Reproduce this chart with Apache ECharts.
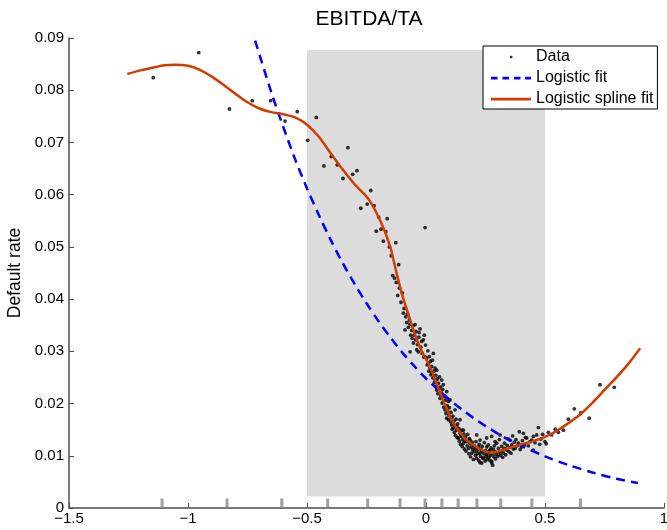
<!DOCTYPE html>
<html>
<head>
<meta charset="utf-8">
<title>EBITDA/TA</title>
<script src="https://cdn.jsdelivr.net/npm/echarts@6/dist/echarts.min.js"></script>
<style>
  html, body { margin: 0; padding: 0; background: #fff; }
  #chart { width: 667px; height: 530px; }
</style>
</head>
<body>
<div id="chart"></div>
<script>
// observed default rates (x = EBITDA/TA bucket, y = default rate)
const dataPoints = [
  [-1.146,0.0824],[-0.955,0.0872],[-0.826,0.0764],[-0.730,0.0780],[-0.653,0.0780],[-0.592,0.0741],
  [-0.541,0.0759],[-0.497,0.0704],[-0.461,0.0748],[-0.429,0.0655],[-0.398,0.0673],[-0.373,0.0657],
  [-0.328,0.0690],[-0.290,0.0646],[-0.308,0.0639],[-0.349,0.0631],[-0.232,0.0608],[-0.247,0.0582],
  [-0.274,0.0574],[-0.218,0.0579],[-0.199,0.0557],[-0.163,0.0554],[-0.209,0.0530],[-0.189,0.0534],
  [-0.169,0.0529],[-0.179,0.0511],[-0.127,0.0508],[-0.154,0.0500],[-0.146,0.0483],[-0.115,0.0466],
  [-0.140,0.0445],[-0.132,0.0440],[-0.004,0.0537],
  [-0.125,0.0432],[-0.119,0.0407],[-0.112,0.0421],[-0.105,0.0394],[-0.099,0.0412],[-0.095,0.0373],
  [-0.092,0.0382],[-0.088,0.0341],[-0.085,0.0366],[-0.081,0.0355],[-0.078,0.0371],[-0.074,0.0346],
  [-0.070,0.0360],[-0.067,0.0352],[-0.064,0.0331],[-0.060,0.0340],[-0.058,0.0325],[-0.055,0.0349],
  [-0.053,0.0316],[-0.050,0.0331],[-0.046,0.0351],[-0.044,0.0322],[-0.042,0.0338],[-0.039,0.0303],
  [-0.036,0.0313],[-0.032,0.0299],[-0.030,0.0327],[-0.029,0.0336],[-0.025,0.0343],[-0.022,0.0308],
  [-0.018,0.0319],[-0.016,0.0296],[-0.011,0.0322],[-0.009,0.0289],[-0.007,0.0331],[-0.004,0.0290],
  [-0.002,0.0312],[-0.067,0.0299],
  [0.003,0.0287],[0.005,0.0274],[0.008,0.0301],[0.010,0.0277],[0.012,0.0262],[0.014,0.0290],
  [0.017,0.0268],[0.019,0.0281],[0.021,0.0255],[0.024,0.0258],[0.024,0.0271],[0.027,0.0283],
  [0.029,0.0249],[0.031,0.0296],[0.033,0.0262],[0.035,0.0240],[0.038,0.0268],[0.038,0.0245],
  [0.041,0.0254],[0.043,0.0233],[0.045,0.0226],[0.045,0.0264],[0.048,0.0247],[0.050,0.0219],
  [0.052,0.0239],[0.054,0.0228],[0.057,0.0251],[0.059,0.0210],[0.061,0.0232],[0.063,0.0215],
  [0.066,0.0220],[0.066,0.0245],[0.068,0.0201],[0.070,0.0227],[0.073,0.0204],[0.073,0.0236],
  [0.075,0.0193],[0.077,0.0214],[0.080,0.0188],[0.082,0.0207],[0.084,0.0181],[0.087,0.0223],
  [0.087,0.0172],[0.089,0.0196],[0.092,0.0185],[0.094,0.0204],[0.094,0.0169],[0.096,0.0178],
  [0.098,0.0192],[0.101,0.0207],
  [0.103,0.0165],[0.105,0.0183],[0.108,0.0159],[0.108,0.0172],[0.110,0.0151],[0.113,0.0176],
  [0.115,0.0153],[0.117,0.0166],[0.119,0.0145],[0.122,0.0188],[0.122,0.0158],[0.124,0.0139],
  [0.126,0.0170],[0.129,0.0149],[0.129,0.0156],[0.131,0.0135],[0.133,0.0161],[0.136,0.0134],
  [0.138,0.0152],[0.140,0.0128],[0.143,0.0143],[0.143,0.0169],[0.145,0.0122],[0.147,0.0139],
  [0.150,0.0149],[0.150,0.0137],[0.152,0.0118],[0.154,0.0131],[0.157,0.0124],[0.157,0.0149],
  [0.159,0.0142],[0.161,0.0113],[0.164,0.0128],[0.166,0.0136],[0.168,0.0109],[0.171,0.0127],
  [0.173,0.0119],[0.175,0.0141],[0.178,0.0114],[0.180,0.0104],[0.182,0.0133],[0.185,0.0124],
  [0.185,0.0130],[0.187,0.0098],[0.189,0.0117],[0.192,0.0105],[0.194,0.0126],[0.196,0.0112],
  [0.199,0.0093],[0.201,0.0119],
  [0.203,0.0108],[0.206,0.0114],[0.208,0.0101],[0.210,0.0127],[0.213,0.0140],[0.213,0.0095],
  [0.215,0.0110],[0.217,0.0104],[0.220,0.0117],[0.222,0.0091],[0.224,0.0122],[0.227,0.0105],
  [0.227,0.0130],[0.227,0.0087],[0.229,0.0099],[0.231,0.0112],[0.234,0.0108],[0.234,0.0086],
  [0.236,0.0118],[0.238,0.0096],[0.241,0.0095],[0.243,0.0104],[0.245,0.0125],[0.248,0.0090],
  [0.250,0.0110],[0.252,0.0099],[0.255,0.0102],[0.255,0.0117],[0.255,0.0134],[0.257,0.0093],
  [0.260,0.0106],[0.262,0.0121],[0.264,0.0097],[0.266,0.0109],[0.269,0.0111],[0.269,0.0091],
  [0.271,0.0101],[0.273,0.0115],[0.276,0.0089],[0.276,0.0137],[0.276,0.0086],[0.278,0.0104],
  [0.280,0.0082],[0.283,0.0112],[0.285,0.0098],[0.287,0.0119],[0.290,0.0108],[0.290,0.0127],
  [0.292,0.0094],[0.294,0.0103],[0.297,0.0124],
  [0.301,0.0099],[0.304,0.0114],[0.306,0.0106],[0.308,0.0131],[0.311,0.0140],[0.313,0.0101],
  [0.316,0.0109],[0.318,0.0118],[0.322,0.0097],[0.325,0.0105],[0.327,0.0112],[0.330,0.0124],
  [0.332,0.0114],[0.335,0.0102],[0.339,0.0111],[0.341,0.0120],[0.344,0.0133],[0.348,0.0108],
  [0.353,0.0130],[0.353,0.0116],[0.357,0.0105],[0.360,0.0121],[0.364,0.0138],[0.367,0.0113],
  [0.371,0.0126],[0.374,0.0114],[0.378,0.0131],[0.383,0.0119],[0.388,0.0124],[0.392,0.0146],
  [0.396,0.0112],[0.402,0.0117],[0.405,0.0129],[0.409,0.0143],[0.414,0.0121],[0.418,0.0135],
  [0.423,0.0134],[0.430,0.0119],[0.437,0.0127],[0.444,0.0130],[0.451,0.0111],[0.451,0.0137],
  [0.458,0.0125],[0.465,0.0140],[0.472,0.0154],[0.478,0.0122],[0.483,0.0132],[0.490,0.0141],
  [0.500,0.0127],[0.505,0.0123],[0.514,0.0145],[0.528,0.0140],[0.543,0.0151],[0.556,0.0145],
  [0.577,0.0149],[0.598,0.0170],[0.623,0.0190],[0.650,0.0182],[0.686,0.0172],[0.731,0.0236],
  [0.791,0.0231]
]

// plain logistic fit
const logisticFit = [
  [-0.718,0.0895],[-0.65,0.0796],[-0.6,0.0730],[-0.55,0.0668],[-0.5,0.0612],[-0.45,0.0561],
  [-0.4,0.0513],[-0.35,0.0469],[-0.3,0.0429],[-0.25,0.0392],[-0.2,0.0358],[-0.15,0.0327],
  [-0.1,0.0298],[-0.05,0.0272],[0,0.0248],[0.05,0.0227],[0.1,0.0207],[0.15,0.0189],
  [0.2,0.0172],[0.25,0.0157],[0.3,0.0143],[0.35,0.0130],[0.4,0.0119],[0.5,0.0099],
  [0.6,0.0082],[0.7,0.0068],[0.8,0.0056],[0.89,0.0048]
]

// logistic spline fit
const splineFit = [
  [-1.255,0.0831],[-1.2,0.0838],[-1.15,0.0843],[-1.1,0.0848],[-1.055,0.0849],[-1.0,0.0847],
  [-0.95,0.0839],[-0.9,0.0826],[-0.85,0.0810],[-0.8,0.0793],[-0.75,0.0777],[-0.7,0.0765],
  [-0.65,0.0758],[-0.6,0.0754],[-0.55,0.0748],[-0.5,0.0734],[-0.45,0.0711],[-0.4,0.0679],
  [-0.35,0.0648],[-0.3,0.0620],[-0.242,0.0592],[-0.19,0.0548],[-0.15,0.0500],[-0.13,0.0462],
  [-0.1,0.0408],[-0.075,0.0372],[-0.05,0.0337],[-0.02,0.0302],[0.0,0.0285],[0.02,0.0267],
  [0.05,0.0232],[0.08,0.0197],[0.11,0.0167],[0.14,0.0146],[0.17,0.0130],[0.2,0.0121],
  [0.23,0.0112],[0.26,0.0107],[0.28,0.0106],[0.3,0.0108],[0.33,0.0112],[0.36,0.0116],
  [0.4,0.0122],[0.45,0.0128],[0.5,0.0136],[0.55,0.0148],[0.6,0.0163],[0.65,0.0180],
  [0.7,0.0202],[0.75,0.0226],[0.8,0.0250],[0.85,0.0276],[0.9,0.0306]
]

// spline knot positions (rug marks along the x axis)
const rugTicks = [-1.109, -0.836, -0.606, -0.413, -0.245, -0.109, -0.004, 0.067, 0.135, 0.214, 0.314, 0.445, 0.649]

// shaded region
const bandX = [-0.5, 0.5]
const bandY = [0.0022, 0.0877]

const xRange = [-1.5, 1, 0.5]
const yRange = [0, 0.09, 0.01]

const font = '"Liberation Sans", Arial, Helvetica, sans-serif'
const axisGray = '#4d4d4d'

// legend icons (corner moves keep the 40x14 box)
const dotIcon = 'path://M0,0M40,14M19,5.8L21.4,5.8L21.4,8.2L19,8.2Z'
const dashIcon = 'path://M0,0M40,14M0,5.8h6.5v2.6h-6.5z M11.5,5.8h6.5v2.6h-6.5z M23,5.8h6.5v2.6h-6.5z M34,5.8h6v2.6h-6z'
const solidIcon = 'path://M0,0M40,14M0,5.8h40v2.6h-40z'

const chart = echarts.init(document.getElementById('chart'))

chart.setOption({
  animation: false,
  textStyle: { fontFamily: font },
  title: {
    text: 'EBITDA/TA',
    left: 364,
    textAlign: 'center',
    top: 4,
    textStyle: { fontFamily: font, fontSize: 21, fontWeight: 'normal', color: '#000' }
  },
  grid: { left: 69, right: 3, top: 38, bottom: 22, containLabel: false, outerBoundsMode: 'none' },
  legend: {
    orient: 'vertical',
    left: 483,
    top: 46,
    width: 175,
    backgroundColor: '#fff',
    borderColor: '#000',
    borderWidth: 1,
    borderRadius: 0,
    padding: [3, 4, 2, 8],
    itemWidth: 40,
    itemHeight: 14,
    itemGap: 5,
    textStyle: { fontFamily: font, fontSize: 16, color: '#000' },
    data: [
      { name: 'Data', icon: dotIcon },
      { name: 'Logistic fit', icon: dashIcon, itemStyle: { borderWidth: 0 }, lineStyle: { width: 0 } },
      { name: 'Logistic spline fit', icon: solidIcon, itemStyle: { borderWidth: 0 }, lineStyle: { width: 0 } }
    ]
  },
  xAxis: {
    type: 'value',
    min: xRange[0], max: xRange[1], interval: xRange[2],
    axisLine: { onZero: false, lineStyle: { color: axisGray, width: 1.5 } },
    axisTick: { inside: true, length: 5, lineStyle: { color: axisGray } },
    splitLine: { show: false },
    axisLabel: {
      margin: 3,
      fontSize: 15,
      color: '#000',
      fontFamily: font,
      formatter: v => String(v).replace('-', '\u2212')
    }
  },
  yAxis: {
    type: 'value',
    min: yRange[0], max: yRange[1], interval: yRange[2],
    name: 'Default rate',
    nameLocation: 'middle',
    nameGap: 39,
    nameTextStyle: { fontFamily: font, fontSize: 17.5, color: '#000' },
    axisLine: { show: true, onZero: false, lineStyle: { color: axisGray, width: 1.5 } },
    axisTick: { show: true, inside: true, length: 5, lineStyle: { color: axisGray } },
    splitLine: { show: false },
    axisLabel: { margin: 5, fontSize: 15, color: '#000', fontFamily: font }
  },
  series: [
    {
      name: 'knots',
      type: 'scatter',
      data: rugTicks.map(x => [x, 0]),
      symbol: 'rect',
      symbolSize: [3, 9],
      symbolOffset: [0, -5],
      itemStyle: { color: '#888888' },
      silent: true,
      markArea: {
        silent: true,
        label: { show: false },
        itemStyle: { color: '#dcdcdc' },
        data: [[{ xAxis: bandX[0], yAxis: bandY[0] }, { xAxis: bandX[1], yAxis: bandY[1] }]]
      },
      z: 1
    },
    {
      name: 'Data',
      type: 'scatter',
      data: dataPoints,
      symbol: 'circle',
      symbolSize: 3.8,
      itemStyle: { color: '#000' },
      z: 2
    },
    {
      name: 'Logistic fit',
      type: 'line',
      data: logisticFit,
      showSymbol: false,
      symbol: 'none',
      smooth: 0.3,
      lineStyle: { color: '#0000ff', width: 2.5, type: [9, 6] },
      itemStyle: { color: '#0000ff' },
      z: 3
    },
    {
      name: 'Logistic spline fit',
      type: 'line',
      data: splineFit,
      showSymbol: false,
      symbol: 'none',
      smooth: 0.25,
      lineStyle: { color: '#d33c00', width: 2.5 },
      itemStyle: { color: '#d33c00' },
      z: 4
    }
  ]
})
</script>
</body>
</html>
